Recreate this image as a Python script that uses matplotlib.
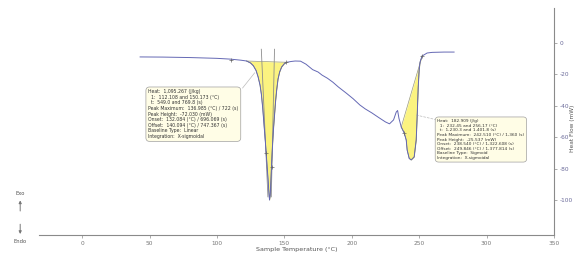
import matplotlib
matplotlib.use("Agg")
import matplotlib.pyplot as plt

plt.rcParams['axes.unicode_minus'] = False

# DSC curve
temp = [43, 60, 80, 100, 110, 118, 122, 125, 127, 129, 130.5, 132, 133, 134, 135,
        136, 137, 138, 138.6, 139, 139.5, 140, 140.6, 141.3, 142, 142.7, 143.5,
        144.3, 145.3, 146.5, 148, 150, 152, 155, 158, 162, 166, 171, 175, 178,
        182, 186, 190, 196, 201, 206, 210, 215, 220, 225, 228, 231, 233, 234,
        235, 236.7, 238.9, 240.4, 241.1, 242.6, 244.1, 246.3, 247.8, 248.5,
        249.3, 250, 250.7, 252.2, 255.9, 259.6, 268.5, 275.9]
heat_flow = [-8.9, -9.0, -9.3, -9.8, -10.3, -11.0, -11.5, -12.8, -14.5, -17.5, -21.5,
             -27, -33, -42, -53, -64, -76, -88, -96, -100, -97, -88, -76, -64, -54,
             -46, -37, -30, -23, -18.5, -15.3, -13.2, -12.3, -11.8, -11.5, -11.6,
             -13.5, -17, -18.5, -20.5, -22.5, -25, -28, -32, -35.5, -39.5, -42,
             -44.6, -47.5, -50.3, -51.5, -49, -44, -43, -48, -53.5, -57.3, -61.8,
             -68.2, -73.5, -74.5, -72.6, -61.8, -47.1, -28, -17.2, -12.1, -8.3,
             -6.4, -6.0, -5.8, -5.8]

# integration limits (start, end) for both peaks
peak1_limits = (122, 152)
peak2_limits = (236.7, 252.2)

# tangent lines of the first peak
tangent_left = ([132.9, 137.8], [-4, -98])
tangent_right = ([142.7, 140.3], [-4, -98])

# small cursor marks on the curve
mark_t = [110.7, 136.3, 140.7, 151.4, 238.9, 252.2]
mark_hf = [-10.9, -70, -79, -12.3, -57.3, -8.3]

xticks = [0, 50, 100, 150, 200, 250, 300, 350]
yticks = [0, -20, -40, -60, -80, -100]

box1_text = ("Heat:  1,095.267 (J/kg)\n"
             "  1:  112.108 and 150.173 (°C)\n"
             "  t:  549.0 and 769.8 (s)\n"
             "Peak Maximum:  136.985 (°C) / 722 (s)\n"
             "Peak Height:  -72.030 (mW)\n"
             "Onset:  132.084 (°C) / 696.069 (s)\n"
             "Offset:  140.094 (°C) / 747.367 (s)\n"
             "Baseline Type:  Linear\n"
             "Integration:  X-sigmoidal")
box2_text = ("Heat:  182.909 (J/g)\n"
             "  1:  232.45 and 256.17 (°C)\n"
             "  t:  1,230.3 and 1,401.8 (s)\n"
             "Peak Maximum:  242.510 (°C) / 1,360 (s)\n"
             "Peak Height:  -25.537 (mW)\n"
             "Onset:  238.540 (°C) / 1,322.608 (s)\n"
             "Offset:  249.846 (°C) / 1,377.814 (s)\n"
             "Baseline Type:  Sigmoid\n"
             "Integration:  X-sigmoidal")


def fill_peak(ax, t0, t1):
    # yellow area between curve and straight baseline
    i0 = min(range(len(temp)), key=lambda i: abs(temp[i] - t0))
    i1 = min(range(len(temp)), key=lambda i: abs(temp[i] - t1))
    xs = temp[i0:i1 + 1]
    ys = heat_flow[i0:i1 + 1]
    h0, h1 = ys[0], ys[-1]
    base = [h0 + (x - xs[0]) / (xs[-1] - xs[0]) * (h1 - h0) for x in xs]
    ax.fill_between(xs, ys, base, color='#fbf26a', alpha=0.85, lw=0, zorder=1)
    ax.plot([xs[0], xs[-1]], [h0, h1], color='#9a9a7a', lw=0.5, zorder=2)
    ax.plot(xs, ys, color='#8a8a50', lw=0.5, zorder=2)


fig = plt.figure(figsize=(5.77, 2.56), dpi=100)
ax = fig.add_axes([0.0676, 0.082, 0.8925, 0.887])

fill_peak(ax, *peak1_limits)
fill_peak(ax, *peak2_limits)
ax.plot(temp, heat_flow, color='#6468b4', lw=0.7, zorder=3)
ax.plot(*tangent_left, color='#8c8c8c', lw=0.6, zorder=2)
ax.plot(*tangent_right, color='#8c8c8c', lw=0.6, zorder=2)
ax.scatter(mark_t, mark_hf, marker='+', s=6, color='#666666', lw=0.5, zorder=4)

# connector lines to the result boxes
ax.plot([119, 128], [-28.7, -19], color='#bbbbbb', lw=0.5)
ax.plot([247.8, 263.3], [-45.9, -49], color='#bbbbbb', lw=0.5, ls='--')

box_style = dict(boxstyle='round,pad=0.5,rounding_size=0.8', fc='#fffde6',
                 ec='#a0a0a0', lw=0.5)
ax.text(49, -29.5, box1_text, fontsize=3.3, linespacing=1.15, va='top', ha='left',
        color='#333333', bbox=box_style, zorder=5)
ax.text(263.5, -48.5, box2_text, fontsize=3.1, linespacing=1.2, va='top', ha='left',
        color='#333333', bbox=box_style, zorder=5)

ax.set_xlim(-32, 350)
ax.set_ylim(-122.3, 22.3)
ax.set_xticks(xticks)
ax.set_yticks(yticks)
ax.yaxis.tick_right()
ax.yaxis.set_label_position('right')
for s in ['top', 'left']:
    ax.spines[s].set_visible(False)
for s in ['bottom', 'right']:
    ax.spines[s].set_color('#8a8a8a')
    ax.spines[s].set_linewidth(0.8)
ax.tick_params(axis='x', labelsize=4.2, colors='#8a8a8a', length=2, width=0.5, pad=2)
ax.tick_params(axis='y', labelsize=4.2, colors='#8a8a8a', length=2, width=0.5, pad=2)
for lab in ax.get_yticklabels():
    lab.set_color('#6a6a9a')
for lab in ax.get_xticklabels():
    lab.set_color('#777777')
ax.set_xlabel('Sample Temperature (°C)', fontsize=4.6, color='#555555', labelpad=1)
ax.set_ylabel('Heat Flow (mW)', fontsize=4.2, color='#555555', rotation=90)
ax.yaxis.set_label_coords(1.031, 0.47)

# exo / endo markers
fig.text(0.035, 0.243, 'Exo', fontsize=3.8, color='#555555', ha='center', va='center')
fig.text(0.035, 0.058, 'Endo', fontsize=3.8, color='#555555', ha='center', va='center')
fig.patches.append(matplotlib.patches.FancyArrowPatch(
    (0.035, 0.165), (0.035, 0.228), transform=fig.transFigure, arrowstyle='-|>',
    mutation_scale=4, color='#777777', lw=0.7))
fig.patches.append(matplotlib.patches.FancyArrowPatch(
    (0.035, 0.135), (0.035, 0.075), transform=fig.transFigure, arrowstyle='-|>',
    mutation_scale=4, color='#777777', lw=0.7))

fig.savefig('out.png', dpi=100)
